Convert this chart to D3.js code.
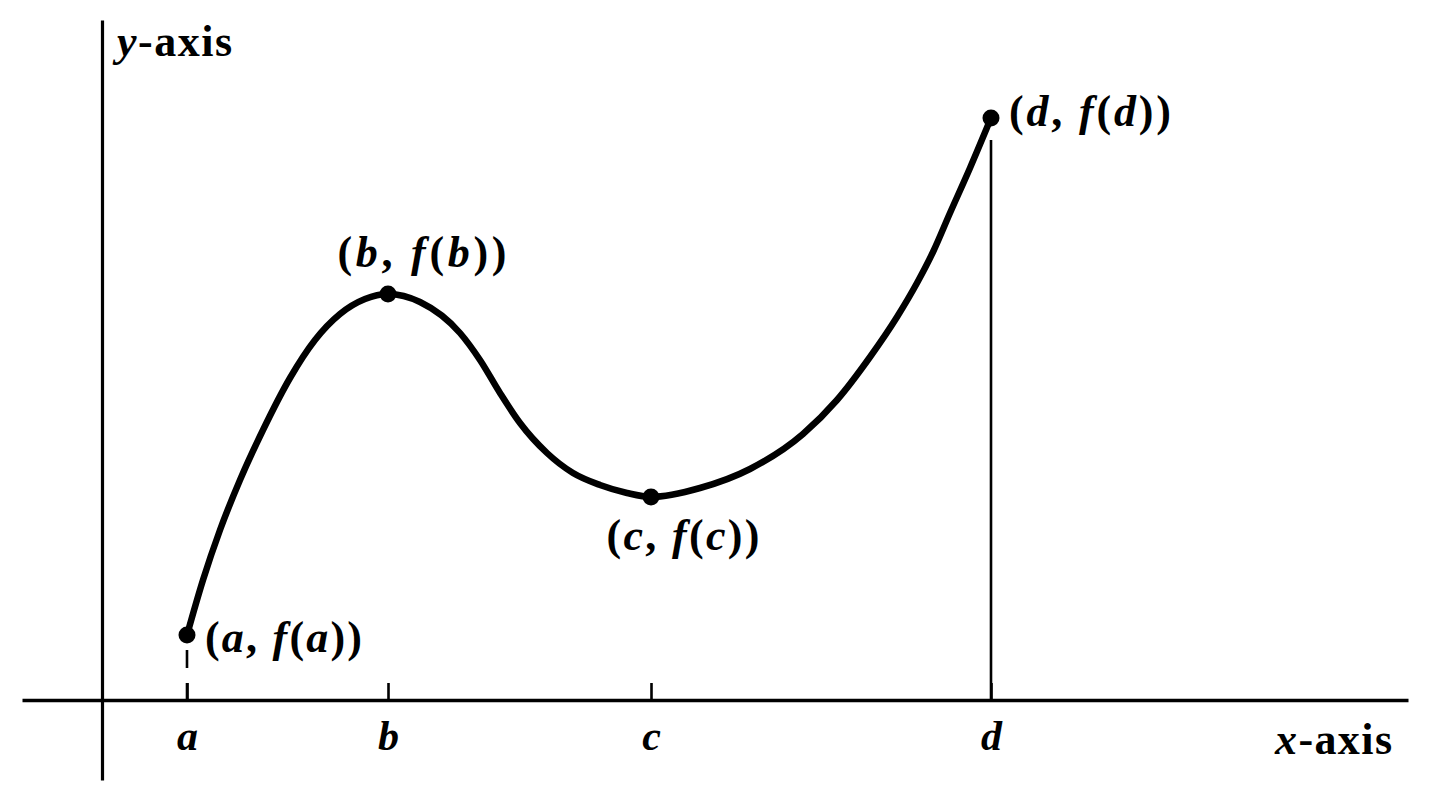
<!DOCTYPE html>
<html>
<head>
<meta charset="utf-8">
<script src="https://cdn.jsdelivr.net/npm/d3@7"></script>
<style>
  html, body { margin: 0; padding: 0; background: #fff; }
  svg { display: block; }
  text { font-family: "Liberation Serif", "DejaVu Serif", serif; fill: #000; }
</style>
</head>
<body>
<svg id="chart" width="1434" height="807"></svg>
<script>
// ---- data (abstract units) ----
const tickNames = ["a", "b", "c", "d"];
const tickValues = [0.85, 2.86, 5.49, 8.89];
const pointValues = [0.65, 4.06, 2.03, 5.82];
const curveX = [0.85, 1.01, 1.18, 1.38, 1.61, 1.88, 2.13, 2.38, 2.63, 2.86, 3.18, 3.58, 3.78, 3.98, 4.18, 4.45, 4.71, 4.98, 5.25, 5.49, 5.98, 6.48, 7.01, 7.35, 7.68, 7.95, 8.15, 8.31, 8.48, 8.68, 8.89];
const curveY = [0.65, 1.20, 1.70, 2.20, 2.70, 3.22, 3.60, 3.86, 4.01, 4.06, 3.98, 3.67, 3.40, 3.07, 2.77, 2.47, 2.27, 2.15, 2.07, 2.03, 2.12, 2.31, 2.66, 3.00, 3.43, 3.83, 4.17, 4.48, 4.87, 5.32, 5.82];
const axisLabels = ["x", "y"];

// ---- scales ----
const svg = d3.select("#chart");
const x = d3.scaleLinear().domain([-0.80, 13.06]).range([22, 1408]);
const y = d3.scaleLinear().domain([-0.80, 6.80]).range([780, 20]);

// x axis
const xAxis = d3.axisBottom(x)
  .tickValues(tickValues)
  .tickFormat((d, i) => tickNames[i])
  .tickSize(-17)
  .tickSizeOuter(0)
  .tickPadding(50);
const gx = svg.append("g").attr("transform", `translate(0,${y(0)})`).call(xAxis);
gx.select(".domain").attr("stroke", "#000").attr("stroke-width", 3.5);
gx.selectAll(".tick line").attr("stroke", "#000").attr("stroke-width", 2.6);
gx.selectAll(".tick text")
  .attr("font-family", "'Liberation Serif', serif")
  .attr("font-size", 42)
  .attr("font-style", "italic")
  .attr("font-weight", "bold")
  .attr("fill", "#000")
  .attr("dy", 0);

// y axis
const yAxis = d3.axisLeft(y).tickValues([]).tickSizeOuter(0);
const gy = svg.append("g").attr("transform", `translate(${x(0)},0)`).call(yAxis);
gy.select(".domain").attr("stroke", "#000").attr("stroke-width", 3.2);

// dashed drop line at a
svg.append("line")
  .attr("x1", x(tickValues[0])).attr("x2", x(tickValues[0]))
  .attr("y1", y(pointValues[0])).attr("y2", y(0))
  .attr("stroke", "#000").attr("stroke-width", 2.6)
  .attr("stroke-dasharray", "0,15,18,15,17");

// solid drop line at d
svg.append("line")
  .attr("x1", x(tickValues[3])).attr("x2", x(tickValues[3]))
  .attr("y1", y(pointValues[3]) + 22).attr("y2", y(0))
  .attr("stroke", "#000").attr("stroke-width", 2.6);

// curve
const pts = curveX.map((v, i) => [v, curveY[i]]);
const line = d3.line().x(d => x(d[0])).y(d => y(d[1])).curve(d3.curveMonotoneX);
svg.append("path").datum(pts)
  .attr("d", line)
  .attr("fill", "none").attr("stroke", "#000").attr("stroke-width", 6.5)
  .attr("stroke-linecap", "round");

// dots
svg.selectAll("circle.pt").data(tickValues).enter().append("circle")
  .attr("class", "pt")
  .attr("cx", (d) => x(d)).attr("cy", (d, i) => y(pointValues[i]))
  .attr("r", 8.5).attr("fill", "#000");

// point labels
const labelOffsets = [
  { dx: 18, dy: 17, anchor: "start", len: 157 },
  { dx: 34, dy: -27, anchor: "middle", len: 169 },
  { dx: 32, dy: 53, anchor: "middle", len: 153 },
  { dx: 18, dy: 8, anchor: "start", len: 162 }
];
tickNames.forEach((n, i) => {
  const o = labelOffsets[i];
  const t = svg.append("text")
    .attr("x", x(tickValues[i]) + o.dx)
    .attr("y", y(pointValues[i]) + o.dy)
    .attr("text-anchor", o.anchor)
    .attr("font-size", 44)
    .attr("font-weight", "bold")
    .attr("textLength", o.len)
    .attr("lengthAdjust", "spacing");
  t.append("tspan").text("(");
  t.append("tspan").attr("font-style", "italic").text(n);
  t.append("tspan").text(", ");
  t.append("tspan").attr("font-style", "italic").text("f");
  t.append("tspan").text("(");
  t.append("tspan").attr("font-style", "italic").text(n);
  t.append("tspan").text("))");
});

// axis titles
const xt = svg.append("text").attr("x", 1275).attr("y", 754)
  .attr("font-size", 44).attr("font-weight", "bold")
  .attr("textLength", 117).attr("lengthAdjust", "spacing");
xt.append("tspan").attr("font-style", "italic").text(axisLabels[0]);
xt.append("tspan").text("-axis");

const yt = svg.append("text").attr("x", 117).attr("y", 56)
  .attr("font-size", 44).attr("font-weight", "bold")
  .attr("textLength", 115).attr("lengthAdjust", "spacing");
yt.append("tspan").attr("font-style", "italic").text(axisLabels[1]);
yt.append("tspan").text("-axis");
</script>
</body>
</html>
